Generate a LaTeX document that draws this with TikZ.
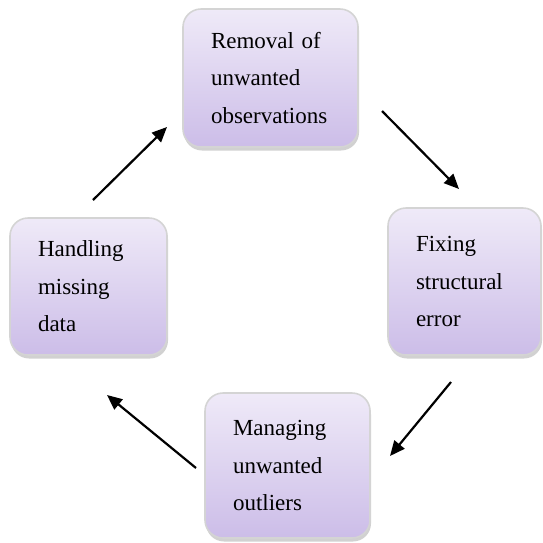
\documentclass[tikz,border=0pt]{standalone}
\usepackage{fontspec}
\setmainfont{Liberation Serif}
\usetikzlibrary{arrows.meta,shadows}
\definecolor{boxtop}{RGB}{239,234,248}
\definecolor{boxbot}{RGB}{204,189,232}
\definecolor{boxline}{RGB}{212,212,212}
\tikzset{
  stepbox/.style={rectangle, rounded corners=18pt, draw=boxline, line width=1.6pt,
    top color=boxtop, bottom color=boxbot, align=left, inner xsep=28pt, inner ysep=0pt,
    font=\fontsize{23}{37.5}\selectfont,
    drop shadow={shadow xshift=1pt, shadow yshift=-3.5pt, fill=black!30, opacity=0.6}},
  flow/.style={line width=2.2pt, -{Triangle[length=15pt,width=13pt]}}
}
\begin{document}
\begin{tikzpicture}[x=1pt,y=-1pt]
\useasboundingbox (0,0) rectangle (543,542);
\node[stepbox, text width=119pt, minimum height=138pt] (top) at (270.5,78) {Removal of\\unwanted\\observations};
\node[stepbox, text width=101pt, minimum height=137pt] (left) at (88.5,286.5) {Handling\\missing\\data};
\node[stepbox, text width=97pt, minimum height=147pt] (right) at (464.5,281.5) {Fixing\\structural\\error};
\node[stepbox, text width=109pt, minimum height=145pt] (bottom) at (287.5,465.5) {Managing\\unwanted\\outliers};
\coordinate (a1s) at (93,200);
\coordinate (a1e) at (167,127);
\coordinate (a2s) at (382,111);
\coordinate (a2e) at (459,189);
\coordinate (a3s) at (451,382);
\coordinate (a3e) at (390,456);
\coordinate (a4s) at (196,468);
\coordinate (a4e) at (107,395);
\draw[flow] (a1s) -- (a1e);
\draw[flow] (a2s) -- (a2e);
\draw[flow] (a3s) -- (a3e);
\draw[flow] (a4s) -- (a4e);
\end{tikzpicture}
\end{document}
